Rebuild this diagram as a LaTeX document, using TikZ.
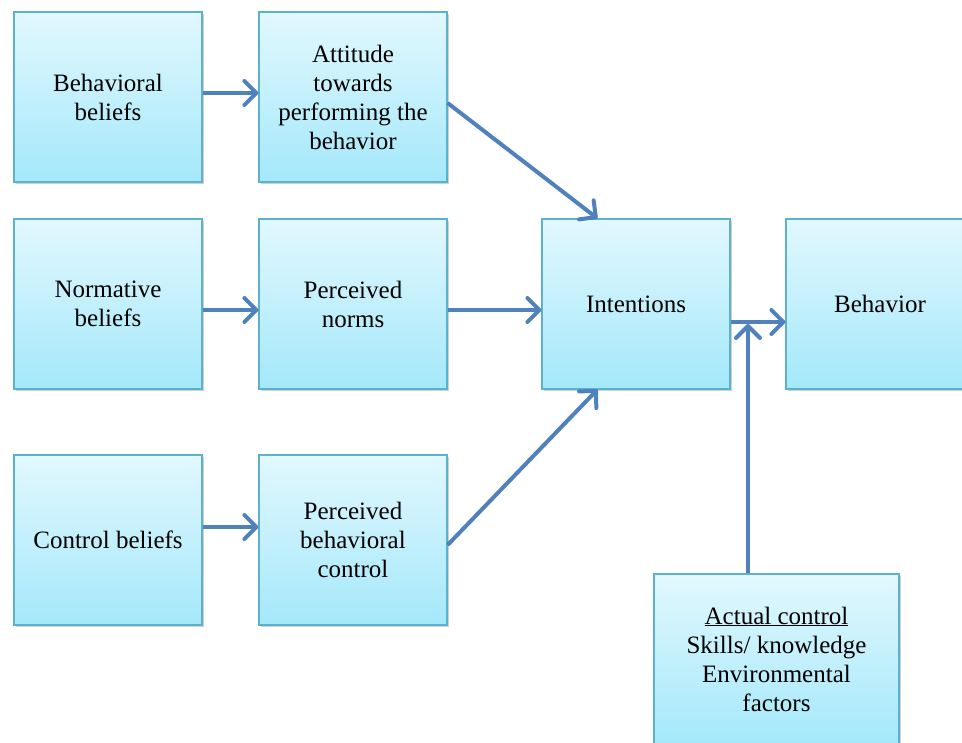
\documentclass[tikz,border=0pt]{standalone}
\usepackage{fontspec}
\setmainfont{Liberation Serif}
\usetikzlibrary{arrows.meta,shadows}
\definecolor{boxtop}{RGB}{226,248,254}
\definecolor{boxbot}{RGB}{164,232,250}
\definecolor{boxline}{RGB}{90,178,204}
\definecolor{arrowblue}{RGB}{79,129,189}
\tikzset{
  tpbbox/.style={draw=boxline, line width=1.2pt, top color=boxtop, bottom color=boxbot,
    minimum width=188pt, minimum height=170pt, align=center, inner sep=0pt,
    font=\fontsize{25}{29}\selectfont,
    drop shadow={shadow xshift=1.5pt, shadow yshift=-2pt, opacity=0.3, fill=black!60}},
  tpbarrow/.style={draw=arrowblue, line width=4pt,
    -{Straight Barb[length=12pt,width=24pt,line width=4pt,round]}}
}
\begin{document}
\begin{tikzpicture}[x=1pt,y=-1pt]
        \clip (0,0) rectangle (962,743);
        \fill [white] (0,0) rectangle (962,743);
        % left column
        \node [tpbbox] (bbel) at (108,97) {Behavioral\\beliefs};
        \node [tpbbox] (nbel) at (108,304) {Normative\\beliefs};
        \node [tpbbox] (cbel) at (108,540) {Control beliefs};
        % middle column
        \node [tpbbox] (att) at (353,97) {Attitude\\towards\\performing the\\behavior};
        \node [tpbbox] (pnorm) at (353,304) {Perceived\\norms};
        \node [tpbbox] (pbc) at (353,540) {Perceived\\behavioral\\control};
        % right
        \node [tpbbox] (intent) at (636,304) {Intentions};
        \node [tpbbox] (behav) at (880,304) {Behavior};
        \node [tpbbox, minimum width=245pt] (actual) at (776.5,659)
          {\underline{Actual control}\\Skills/ knowledge\\Environmental\\factors};
        \coordinate (join) at (748,324);
        % arrows
        \draw [tpbarrow] (bbel.east |- 0,93) -- (att.west |- 0,93);
        \draw [tpbarrow] (nbel.east |- 0,310) -- (pnorm.west |- 0,310);
        \draw [tpbarrow] (cbel.east |- 0,527) -- (pbc.west |- 0,527);
        \draw [tpbarrow] ([yshift=-6pt]att.east) -- ([xshift=56pt]intent.north west);
        \draw [tpbarrow] (pnorm.east |- 0,310) -- (intent.west |- 0,310);
        \draw [tpbarrow] ([yshift=-5pt]pbc.east) -- ([xshift=56pt]intent.south west);
        \draw [tpbarrow] ([yshift=-18pt]intent.east) -- ([yshift=-18pt]behav.west);
        \draw [tpbarrow] (actual.north -| join) -- (join);
        \end{tikzpicture}
\end{document}
